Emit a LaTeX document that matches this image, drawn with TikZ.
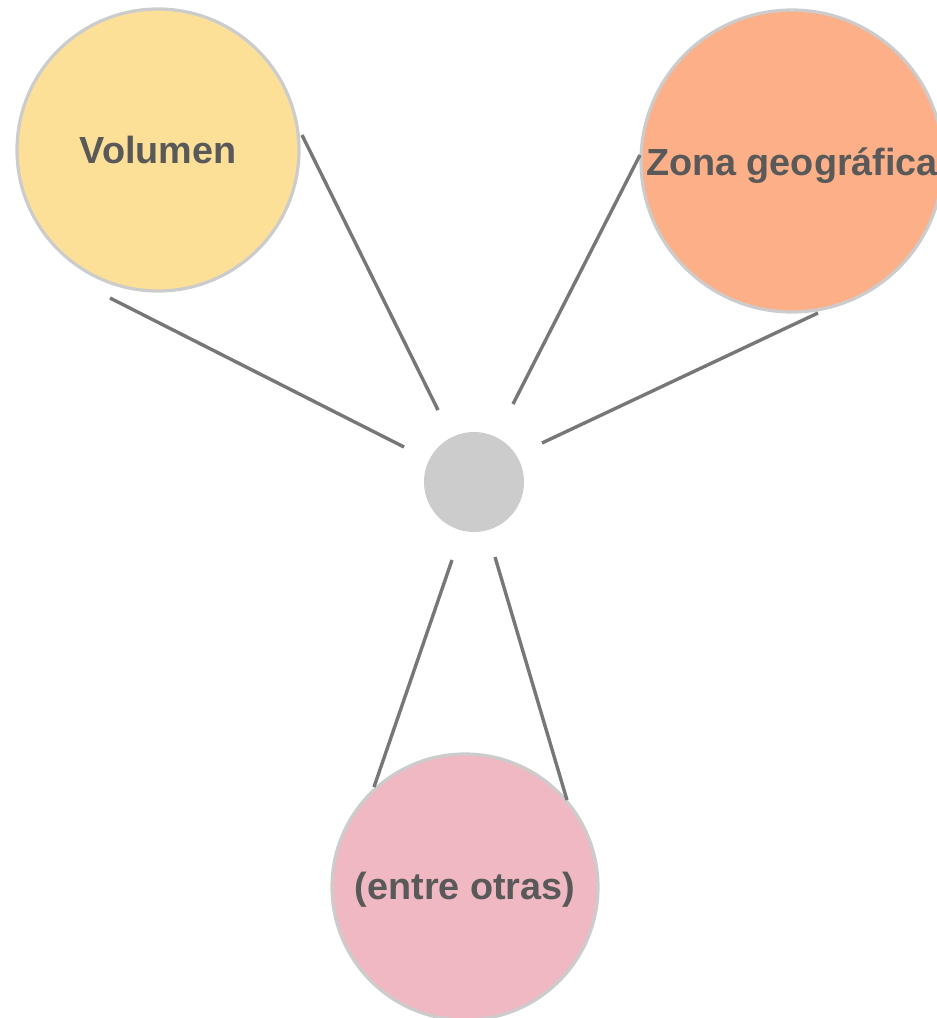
\documentclass[tikz,border=0pt]{standalone}
\usepackage{fontspec}
\setmainfont{Liberation Sans}
\begin{document}
\begin{tikzpicture}[x=1pt,y=-1pt,
  bubble/.style={circle,draw=ringgray,line width=3.2pt,inner sep=0pt},
  lbl/.style={text=txtgray,font=\bfseries\fontsize{37.8}{42}\selectfont,inner sep=0pt},
  link/.style={draw=linegray,line width=3.4pt}]
\definecolor{ringgray}{HTML}{CCCCCC}
\definecolor{txtgray}{HTML}{595959}
\definecolor{linegray}{HTML}{777777}
\definecolor{yel}{HTML}{FDE098}
\definecolor{ora}{HTML}{FDB088}
\definecolor{pnk}{HTML}{F0B8C2}
\useasboundingbox (0,0) rectangle (937,1018);
\node[circle,fill=ringgray,minimum size=100pt,inner sep=0pt] (hub) at (474,482) {};
\node[bubble,fill=yel,minimum size=282pt] (vol) at (158,150) {};
\node[bubble,fill=ora,minimum size=302pt] (zona) at (792,161) {};
\node[bubble,fill=pnk,minimum size=266pt] (otras) at (465,887) {};
\node[lbl] (volt) at ([yshift=0pt]vol.center) {Volumen};
\node[lbl] (zonat) at ([yshift=-5pt]zona.center) {Zona geográfica};
\node[lbl] (otrast) at ([yshift=-3pt]otras.center) {(entre otras)};
\coordinate (a1) at (110,298); \coordinate (a2) at (404,447);
\coordinate (b1) at (302,135); \coordinate (b2) at (438,410);
\coordinate (c1) at (640,155); \coordinate (c2) at (513,404);
\coordinate (d1) at (818,313); \coordinate (d2) at (542,443);
\coordinate (e1) at (452,560); \coordinate (e2) at (374,787);
\coordinate (f1) at (495,557); \coordinate (f2) at (567,800);
\draw[link] (a1) -- (a2);
\draw[link] (b1) -- (b2);
\draw[link] (c1) -- (c2);
\draw[link] (d1) -- (d2);
\draw[link] (e1) -- (e2);
\draw[link] (f1) -- (f2);
\end{tikzpicture}
\end{document}
